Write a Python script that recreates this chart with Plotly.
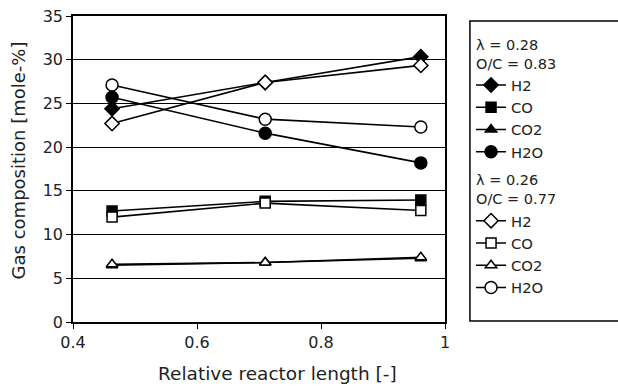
import plotly.graph_objects as go

x_pos = [0.463, 0.71, 0.961]

# lambda = 0.28, O/C = 0.83 (filled markers)
h2_a = [24.4, 27.4, 30.35]
co_a = [12.7, 13.8, 13.95]
co2_a = [6.5, 6.8, 7.3]
h2o_a = [25.7, 21.6, 18.2]

# lambda = 0.26, O/C = 0.77 (open markers)
h2_b = [22.7, 27.4, 29.35]
co_b = [12.0, 13.6, 12.75]
co2_b = [6.6, 6.8, 7.4]
h2o_b = [27.1, 23.2, 22.3]

species = ["H2", "CO", "CO2", "H2O"]
symbols = ["diamond", "square", "triangle-up", "circle"]
sizes = [11, 10, 10, 12]

FONT = "DejaVu Sans, Liberation Sans, Arial, sans-serif"

fig = go.Figure()
groups = [
    ("a", "λ = 0.28<br>O/C = 0.83", [h2_a, co_a, co2_a, h2o_a], "black"),
    ("b", "λ = 0.26<br>O/C = 0.77", [h2_b, co_b, co2_b, h2o_b], "white"),
]
for gid, gtitle, series, fill in groups:
    for name, sym, sz, vals in zip(species, symbols, sizes, series):
        fig.add_trace(go.Scatter(
            x=x_pos, y=vals, name=name, mode="lines+markers",
            legendgroup=gid,
            legendgrouptitle=dict(text=gtitle, font=dict(size=14.5, color="#222")),
            line=dict(color="black", width=1.6),
            marker=dict(symbol=sym, size=sz, color=fill,
                        line=dict(color="black", width=1.5)),
        ))

fig.add_shape(type="rect", xref="paper", yref="paper",
              x0=1.067, x1=1.475, y0=0.003, y1=0.984,
              line=dict(color="black", width=1.5), fillcolor="rgba(0,0,0,0)")

fig.add_annotation(text="Relative reactor length [-]", xref="paper", yref="paper",
                   x=0.551, y=-0.1667, xanchor="center", yanchor="middle",
                   showarrow=False, font=dict(size=18.5, color="#222"))
fig.add_annotation(text="Gas composition [mole-%]", xref="paper", yref="paper",
                   x=-0.148, y=0.528, xanchor="center", yanchor="middle",
                   textangle=-90, showarrow=False, font=dict(size=18, color="#222"))

fig.update_layout(
    width=618, height=386,
    margin=dict(l=73, r=173, t=16, b=64),
    plot_bgcolor="white", paper_bgcolor="white",
    font=dict(family=FONT, color="#222", size=16),
    legend=dict(x=1.07, y=0.96, xanchor="left", yanchor="top",
                font=dict(size=14.8, color="#222"), tracegroupgap=6,
                bgcolor="rgba(0,0,0,0)", borderwidth=0,
                itemwidth=30),
    showlegend=True,
)
fig.update_xaxes(range=[0.4, 1.0], tickvals=[0.4, 0.6, 0.8, 1.0],
                 ticktext=["0.4", "0.6", "0.8", "1"],
                 showgrid=False, zeroline=False, automargin=False,
                 showline=True, linecolor="black", linewidth=1.5, mirror=True,
                 ticks="outside", ticklen=5, tickcolor="black")
fig.update_yaxes(range=[0, 35], dtick=5,
                 showgrid=True, gridcolor="black", gridwidth=1.2,
                 zeroline=False, automargin=False,
                 showline=True, linecolor="black", linewidth=1.5, mirror=True,
                 ticks="outside", ticklen=5, tickcolor="black")

fig.write_html("out.html",
               config={"displayModeBar": False},
               post_script="document.body.style.margin='0';document.body.style.overflow='hidden';")
